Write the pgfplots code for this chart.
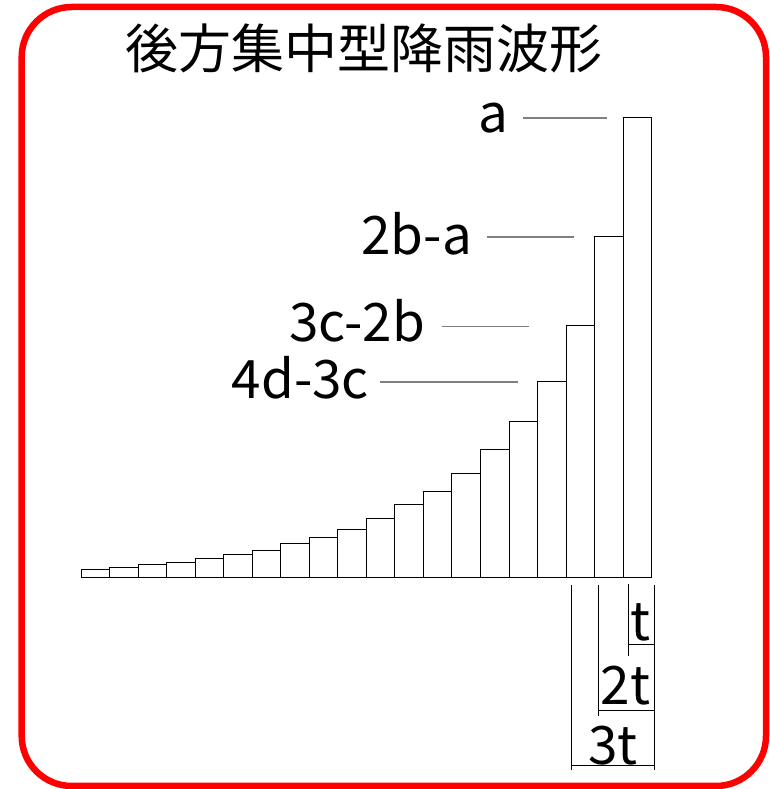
\documentclass[border=0pt]{standalone}
\usepackage{pgfplots}
\pgfplotsset{compat=1.18}
\usepackage{fontspec}
\setmainfont{Noto Sans CJK JP}
\begin{document}
\fontsize{53bp}{60bp}\selectfont
\begin{tikzpicture}[x=1bp,y=1bp,every node/.style={font=\fontsize{53bp}{60bp}\selectfont, inner sep=0pt, outer sep=0pt}]
\useasboundingbox (0,0) rectangle (770,789);
\draw[red, line width=6.5bp, rounded corners=50bp] (21.7,3) rectangle (766,782);
\begin{axis}[at={(81bp,211.3bp)}, anchor=south west, scale only axis,
  width=570.7bp, height=500bp, xmin=0, xmax=20, ymin=0, ymax=500,
  hide axis, clip=false]
\addplot[ybar interval, fill=white, draw=black, line width=1bp] coordinates {
 (0,8.4) (1,10) (2,13.4) (3,15) (4,18.7) (5,23) (6,27.4) (7,33.7) (8,40) (9,48.4)
 (10,59.2) (11,72.7) (12,86.4) (13,103.7) (14,127.7) (15,156) (16,195.7) (17,251.7)
 (18,341) (19,459.7) (20,459.7)};
\end{axis}
% title
\node[anchor=center] at (364,741) {後方集中型降雨波形};
% labels and leader lines
\begin{scope}[gray, line width=1.5bp]
\draw (522.7,671) -- (606.7,671);
\draw (486.7,552) -- (574,552);
\draw (441.7,462.3) -- (529.3,462.3);
\draw (380,407) -- (518.3,407);
\end{scope}
\node[anchor=base east] at (508,656) {a};
\node[anchor=base east] at (472,534) {2b-a};
\node[anchor=base east] at (425,447) {3c-2b};
\node[anchor=base east] at (369,390) {4d-3c};
% time dimension lines
\begin{scope}[black, line width=1bp]
\draw (571,204) -- (571,19);
\draw (598,204) -- (598,73);
\draw (628.3,205) -- (628.3,133);
\draw (654.3,204) -- (654.3,19);
\draw (628.3,144) -- (654.3,144);
\draw (598,78.7) -- (654.3,78.7);
\draw (571,23) -- (654.3,23);
\end{scope}
\node[anchor=base east] at (650,148) {t};
\node[anchor=base east] at (650,84) {2t};
\node[anchor=base] at (613,24) {3t};
\end{tikzpicture}
\end{document}
